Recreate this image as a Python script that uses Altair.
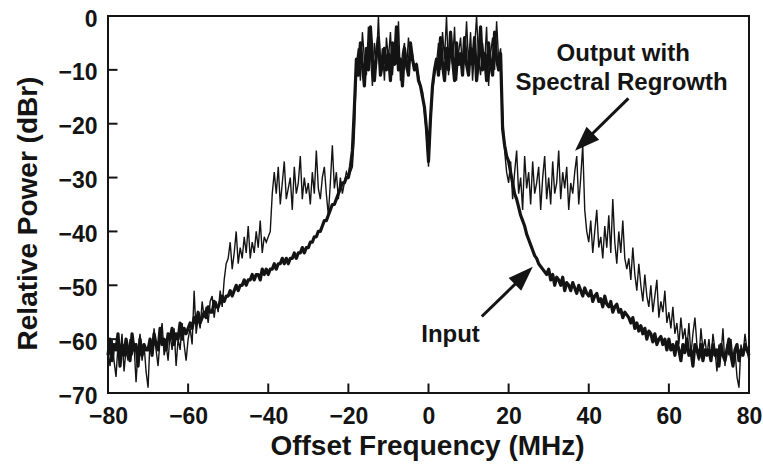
import altair as alt
import pandas as pd

# ---------------- data ----------------
freq = [round(-80 + 0.5 * i, 1) for i in range(321)]  # MHz grid, 0.5 MHz steps

output_db = [
    -62, -65, -60, -64, -67, -61, -63, -59, -66, -62, -64, -60, -63, -61, -68, -62, -59, -64, -61, -66,
    -69, -60, -63, -58, -62, -65, -60, -57, -63, -61, -64, -59, -62, -58, -65, -60, -62, -57, -61, -64,
    -60, -58, -61, -51, -59, -56, -58, -53, -56, -54, -57, -53, -52, -56, -53, -55, -51, -54, -49, -46,
    -45, -42, -47, -44, -40, -46, -43, -45, -41, -44, -39, -45, -42, -44, -40, -43, -38, -44, -41, -42,
    -41, -40, -33, -29, -33, -28, -35, -31, -27, -34, -32, -30, -36, -28, -33, -31, -26, -34, -30, -33,
    -31, -35, -29, -33, -25, -32, -34, -30, -28, -33, -37, -31, -24, -32, -29, -34, -30, -33, -31, -29,
    -30, -29, -28, -22, -9, -6, -12, -3, -8, -11, -2, -7, -13, -5, -9, 0, -10, -6, -12, -4,
    -8, -3, -11, -6, -9, -1, -12, -7, -5, -10, -4, -8, -7, -10, -9, -11, -13, -14, -18, -22,
    -28, -20, -14, -11, -9, -5, -10, -3, -8, 0, -11, -6, -9, -2, -12, -7, -4, -10, -8, -1,
    -9, -3, -12, -6, 0, -8, -11, -5, -9, -2, -13, -7, -4, -10, -1, -8, -6, -18, -25, -29,
    -31, -27, -34, -29, -25, -33, -30, -36, -26, -32, -29, -35, -27, -33, -31, -28, -36, -30, -26, -34,
    -30, -35, -27, -33, -31, -25, -34, -29, -32, -28, -36, -31, -33, -29, -26, -35, -30, -24, -36, -40,
    -42, -38, -44, -40, -36, -43, -41, -45, -39, -43, -37, -44, -34, -42, -46, -40, -44, -38, -45, -47,
    -45, -49, -43, -48, -51, -46, -50, -53, -48, -52, -54, -50, -55, -52, -49, -56, -53, -55, -51, -57,
    -55, -58, -54, -59, -57, -61, -56, -60, -58, -62, -57, -63, -59, -56, -61, -64, -58, -62, -60, -63,
    -60, -64, -59, -62, -66, -61, -63, -58, -65, -61, -63, -60, -64, -62, -67, -69, -61, -63, -59, -62, -64,
]

input_db = [
    -63, -60, -64, -61, -62, -59, -65, -61, -63, -60, -62, -64, -59, -62, -61, -65, -60, -63, -61, -62,
    -62, -60, -63, -59, -61, -62, -58, -61, -60, -62, -59, -60, -58, -61, -59, -60, -57, -60, -58, -59,
    -58, -57, -58, -56, -57, -55, -57, -56, -55, -56, -54, -55, -55, -53, -54, -54, -53, -52, -53, -52,
    -52, -51, -52, -51, -50, -51, -50, -50, -49, -50, -49, -49, -48, -49, -48, -48, -49, -47, -48, -47,
    -48, -47, -47, -46, -47, -46, -46, -45, -46, -45, -46, -45, -45, -44, -45, -44, -44, -43, -44, -43,
    -43, -42, -42, -41, -41, -40, -40, -39, -38, -38, -37, -36, -35, -35, -34, -33, -32, -31, -31, -30,
    -30, -28, -25, -17, -8, -11, -5, -9, -13, -6, -10, -2, -8, -12, -7, -4, -11, -9, -6, -10,
    -7, -12, -5, -9, -2, -10, -8, -13, -6, -9, -11, -5, -8, -10, -9, -12, -13, -15, -17, -21,
    -27, -19, -13, -10, -8, -11, -4, -9, -12, -6, -10, -3, -8, -12, -5, -9, -7, -11, -4, -9,
    -11, -6, -9, -4, -12, -8, -2, -10, -7, -12, -5, -9, -11, -3, -8, -10, -7, -21, -24, -26,
    -27, -29, -31, -33, -34, -35.5, -37, -38, -39, -40.5, -41.5, -42.5, -43.5, -44.5, -45, -46, -46.5, -47, -47.5, -48,
    -47, -49, -48, -50, -48.5, -49, -50, -48.5, -51, -49.5, -50, -51, -49.5, -50.5, -51.5, -50, -51, -52, -50.5, -51.5,
    -52, -51, -53, -52, -51.5, -53, -52.5, -54, -52, -53.5, -54, -53, -55, -54, -53.5, -55, -54.5, -56, -55, -55.5,
    -56, -57, -56, -58, -57, -58.5, -57.5, -59, -58, -60, -58.5, -59, -60.5, -59, -61, -60, -59.5, -61, -60, -62,
    -60, -62, -61, -63, -60.5, -62, -64, -61, -62.5, -60, -63, -62, -65, -61, -62, -63.5, -61, -64, -62, -63,
    -62, -64, -61, -63, -62, -65, -61, -63, -64, -62, -60, -63, -65, -62, -61, -64, -62, -63, -61, -62, -63,
]

x_ticks = [-80, -60, -40, -20, 0, 20, 40, 60, 80]
y_ticks = [-70, -60, -50, -40, -30, -20, -10, 0]

label_text = ["Output with", "Spectral Regrowth", "Input"]
label_x = [48.6, 48.2, 5.5]
label_y = [-7.0, -12.4, -59.2]

arrow_x1 = [49.9, 13.3]
arrow_y1 = [-15.3, -55.8]
arrow_x2 = [38.8, 23.8]   # arrowhead centres
arrow_y2 = [-23.4, -48.2]
arrow_angle = [225.5, 45.6]

# ---------------- build tables ----------------
df_out = pd.DataFrame({"f": freq, "db": output_db})
df_in = pd.DataFrame({"f": freq, "db": input_db})
df_xt = pd.DataFrame({"t": x_ticks})
df_yt = pd.DataFrame({"t": y_ticks})
df_lab = pd.DataFrame({"text": label_text, "x": label_x, "y": label_y})
df_arr = pd.DataFrame({"x1": arrow_x1, "y1": arrow_y1, "x2": arrow_x2, "y2": arrow_y2, "ang": arrow_angle})

INK = "#141414"
FONT = "Liberation Sans"

xs = alt.Scale(domain=[-80, 80], nice=False, zero=False)
ys = alt.Scale(domain=[-70, 0], nice=False, zero=False)

x_axis = alt.Axis(
    values=x_ticks, title="Offset Frequency (MHz)", grid=False, domain=False, ticks=False,
    labelFont=FONT, labelFontSize=23, labelFontWeight="bold", labelColor=INK, labelPadding=12,
    labelFlush=False, titleFont=FONT, titleFontSize=28, titleFontWeight="bold", titleColor=INK,
    titleX=319, titleY=53, titleBaseline="middle", titleAlign="center",
)
y_axis = alt.Axis(
    values=y_ticks, title="Relative Power (dBr)", grid=False, domain=False, ticks=False,
    labelFont=FONT, labelFontSize=23, labelFontWeight="bold", labelColor=INK, labelPadding=11,
    labelFlush=False, labelOffset=3,
    titleFont=FONT, titleFontSize=28, titleFontWeight="bold", titleColor=INK,
    titleX=-80, titleY=197, titleBaseline="middle", titleAlign="center", titleAngle=270,
)

base_in = alt.Chart(df_in).mark_line(color=INK, strokeWidth=3.2, strokeJoin="round").encode(
    x=alt.X("f:Q", scale=xs, axis=x_axis),
    y=alt.Y("db:Q", scale=ys, axis=y_axis),
)
base_out = alt.Chart(df_out).mark_line(color=INK, strokeWidth=1.4, strokeJoin="miter").encode(
    x=alt.X("f:Q", scale=xs),
    y=alt.Y("db:Q", scale=ys),
)

xtick_marks = alt.Chart(df_xt).mark_rule(color=INK, strokeWidth=2).encode(
    x=alt.X("t:Q", scale=xs), y=alt.value(377), y2=alt.value(367.5)
)
ytick_marks = alt.Chart(df_yt).mark_rule(color=INK, strokeWidth=2).encode(
    y=alt.Y("t:Q", scale=ys), x=alt.value(0), x2=alt.value(9.5)
)

labels = alt.Chart(df_lab).mark_text(
    font=FONT, fontSize=24, fontWeight="bold", color=INK, align="center", baseline="middle"
).encode(x=alt.X("x:Q", scale=xs), y=alt.Y("y:Q", scale=ys), text="text:N")

shafts = alt.Chart(df_arr).mark_rule(color=INK, strokeWidth=3).encode(
    x=alt.X("x1:Q", scale=xs), y=alt.Y("y1:Q", scale=ys), x2="x2:Q", y2="y2:Q"
)
heads = alt.Chart(df_arr).mark_point(
    shape="M0,-1L0.72,1L-0.72,1Z", filled=True, color=INK, opacity=1, size=625, strokeWidth=0
).encode(
    x=alt.X("x2:Q", scale=xs), y=alt.Y("y2:Q", scale=ys), angle=alt.Angle("ang:Q", scale=None)
)

chart = alt.layer(base_in, base_out, xtick_marks, ytick_marks, shafts, heads, labels).properties(
    width=641, height=377,
    padding={"left": 108, "top": 16, "right": 14, "bottom": 83},
    autosize=alt.AutoSizeParams(type="none"),
    background="white",
).configure_view(stroke=INK, strokeWidth=2)

chart.save("out.html", embed_options={"renderer": "svg", "actions": False})
